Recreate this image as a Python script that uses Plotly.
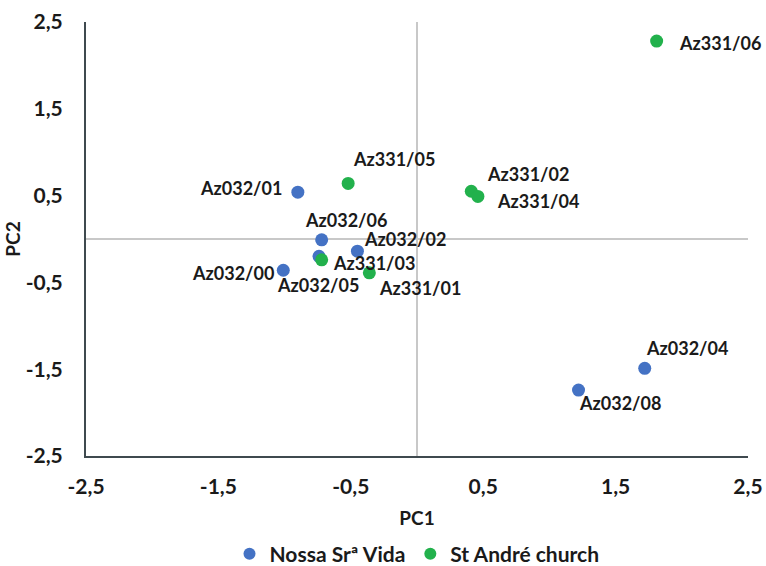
import plotly.graph_objects as go

# Data
nossa_labels = ["Az032/01", "Az032/06", "Az032/02", "Az032/05", "Az032/00", "Az032/04", "Az032/08"]
nossa_pc1 = [-0.90, -0.72, -0.45, -0.74, -1.01, 1.72, 1.22]
nossa_pc2 = [0.54, -0.01, -0.14, -0.20, -0.36, -1.49, -1.74]

andre_labels = ["Az331/06", "Az331/05", "Az331/02", "Az331/04", "Az331/03", "Az331/01"]
andre_pc1 = [1.81, -0.52, 0.41, 0.46, -0.72, -0.36]
andre_pc2 = [2.28, 0.64, 0.55, 0.49, -0.24, -0.39]

tick_vals = [-2.5, -1.5, -0.5, 0.5, 1.5, 2.5]
tick_text = ["-2,5", "-1,5", "-0,5", "0,5", "1,5", "2,5"]

# label offsets (pixels) per point
label_shift = {
    "Az032/01": (-57, 4), "Az032/06": (24, 20), "Az032/02": (48, 12),
    "Az032/05": (-1, -29), "Az032/00": (-50, -3), "Az032/04": (42, 20),
    "Az032/08": (41, -13),
    "Az331/06": (63, -2), "Az331/05": (46, 24), "Az331/02": (57, 17),
    "Az331/04": (60, -5), "Az331/03": (52, -3), "Az331/01": (51, -15),
}

FONT = "Lato"
TXT = "#1a1a1a"
BLUE = "#4472C4"
GREEN = "#22B14C"

fig = go.Figure()
fig.add_trace(go.Scatter(x=nossa_pc1, y=nossa_pc2, mode="markers", name="Nossa Srª Vida",
                         marker=dict(color=BLUE, size=13), cliponaxis=False))
fig.add_trace(go.Scatter(x=andre_pc1, y=andre_pc2, mode="markers", name="St André church",
                         marker=dict(color=GREEN, size=13), cliponaxis=False))

for labs, xs, ys in [(nossa_labels, nossa_pc1, nossa_pc2), (andre_labels, andre_pc1, andre_pc2)]:
    for lab, xv, yv in zip(labs, xs, ys):
        dx, dy = label_shift[lab]
        fig.add_annotation(x=xv, y=yv, text=lab, showarrow=False, xshift=dx, yshift=dy,
                           font=dict(family=FONT, size=18, color=TXT, weight="bold"))

fig.update_layout(
    width=766, height=566,
    margin=dict(l=86, r=18, t=22, b=110, autoexpand=False),
    paper_bgcolor="white", plot_bgcolor="white",
    showlegend=True,
    legend=dict(orientation="h", x=0.5, xanchor="center",
                yref="container", y=0.021, yanchor="middle",
                font=dict(family=FONT, size=21, color=TXT, weight="bold"),
                itemsizing="constant", itemwidth=30),
    font=dict(family=FONT, color=TXT),
)
fig.update_xaxes(range=[-2.5, 2.5], tickvals=tick_vals, ticktext=tick_text,
                 showgrid=False, zeroline=True, zerolinecolor="#c8c8c8", zerolinewidth=1.5,
                 showline=True, linecolor="#3f4a4f", linewidth=2, ticks="",
                 ticklabelstandoff=11, automargin=False,
                 tickfont=dict(family=FONT, size=21, color=TXT, weight="bold"),
                 title=dict(text="PC1", font=dict(family=FONT, size=19, color=TXT, weight="bold"),
                            standoff=14))
fig.update_yaxes(range=[-2.5, 2.5], tickvals=tick_vals, ticktext=tick_text,
                 showgrid=False, zeroline=True, zerolinecolor="#c8c8c8", zerolinewidth=1.5,
                 showline=True, linecolor="#3f4a4f", linewidth=2, ticks="",
                 ticklabelstandoff=17, automargin=False,
                 tickfont=dict(family=FONT, size=21, color=TXT, weight="bold"),
                 title=dict(text="PC2", font=dict(family=FONT, size=19, color=TXT, weight="bold"),
                            standoff=0))

fig.write_html("out.html", config={"displayModeBar": False},
               post_script="document.body.style.margin='0';")
